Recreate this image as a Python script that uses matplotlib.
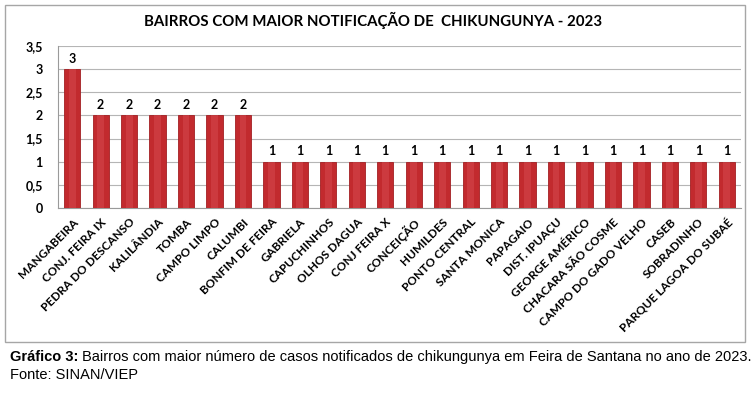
import matplotlib
matplotlib.use("Agg")
import matplotlib.pyplot as plt
from matplotlib.patches import Rectangle

categories = ["MANGABEIRA", "CONJ. FEIRA IX", "PEDRA DO DESCANSO", "KALILÂNDIA", "TOMBA",
              "CAMPO LIMPO", "CALUMBI", "BONFIM DE FEIRA", "GABRIELA", "CAPUCHINHOS",
              "OLHOS DAGUA", "CONJ FEIRA X", "CONCEIÇÃO", "HUMILDES", "PONTO CENTRAL",
              "SANTA MONICA", "PAPAGAIO", "DIST. IPUAÇU", "GEORGE AMÉRICO",
              "CHACARA SÃO COSME", "CAMPO DO GADO VELHO", "CASEB", "SOBRADINHO",
              "PARQUE LAGOA DO SUBAÉ"]
values = [3, 2, 2, 2, 2, 2, 2, 1, 1, 1, 1, 1, 1, 1, 1, 1, 1, 1, 1, 1, 1, 1, 1, 1]
yticks = [0, 0.5, 1, 1.5, 2, 2.5, 3, 3.5]
ytick_labels = ["0", "0,5", "1", "1,5", "2", "2,5", "3", "3,5"]
title = "BAIRROS COM MAIOR NOTIFICAÇÃO DE  CHIKUNGUNYA - 2023"

W, H = 753, 394
fig = plt.figure(figsize=(W / 100, H / 100), dpi=100)
fig.patch.set_facecolor("white")

# outer chart border
fig.patches.append(Rectangle((5 / W, 1 - 342 / H), 740 / W, 337 / H, transform=fig.transFigure,
                             fill=False, edgecolor="#A6A6A6", linewidth=1.0))

left, right, top, bottom = 58, 741, 46, 208
ax = fig.add_axes([left / W, 1 - bottom / H, (right - left) / W, (bottom - top) / H])
x = list(range(len(categories)))
ax.bar(x, values, width=0.57, color="#C22A2E", edgecolor="#A21F23", linewidth=0.6, zorder=3)
# light highlight stripe to mimic gradient
ax.bar(x, values, width=0.24, color="#D64A50", linewidth=0, zorder=3, alpha=0.5)
ax.set_xlim(-0.5, len(categories) - 0.5)
ax.set_ylim(0, 3.5)
ax.set_yticks(yticks)
ax.set_yticklabels(ytick_labels, fontsize=9, fontweight="bold", family="Lato")
ax.grid(axis="y", color="#B5B5B5", linewidth=0.8, zorder=0)
ax.set_xticks(x)
ax.set_xticklabels(categories, rotation=45, ha="right", rotation_mode="anchor",
                   fontsize=8.5, fontweight="bold", family="Lato")
ax.tick_params(axis="x", length=0, pad=6)
ax.tick_params(axis="y", length=0, pad=11)
for s in ["top", "right"]:
    ax.spines[s].set_visible(False)
ax.spines["left"].set_color("#9A9A9A")
ax.spines["bottom"].set_color("#9A9A9A")
for xi, v in zip(x, values):
    ax.text(xi, v + 0.1, str(v), ha="center", va="bottom", fontsize=9,
            fontweight="bold", family="Lato")

fig.text(373 / W, 1 - 20 / H, title, ha="center", va="center", fontsize=10.8,
         fontweight="bold", family="Lato")

# caption
fig.canvas.draw()
r = fig.canvas.get_renderer()
cap_fs = 10.5
t1 = fig.text(10 / W, 1 - 357 / H, "Gráfico 3:", ha="left", va="center", fontsize=cap_fs,
              fontweight="bold", family="Liberation Sans")
bb = t1.get_window_extent(renderer=r)
fig.text((bb.x1 + 4) / W, 1 - 357 / H,
         "Bairros com maior número de casos notificados de chikungunya em Feira de Santana no ano de 2023.",
         ha="left", va="center", fontsize=cap_fs, family="Liberation Sans")
fig.text(10 / W, 1 - 375 / H, "Fonte: SINAN/VIEP", ha="left", va="center", fontsize=cap_fs,
         family="Liberation Sans")

fig.savefig("out.png", dpi=100)
